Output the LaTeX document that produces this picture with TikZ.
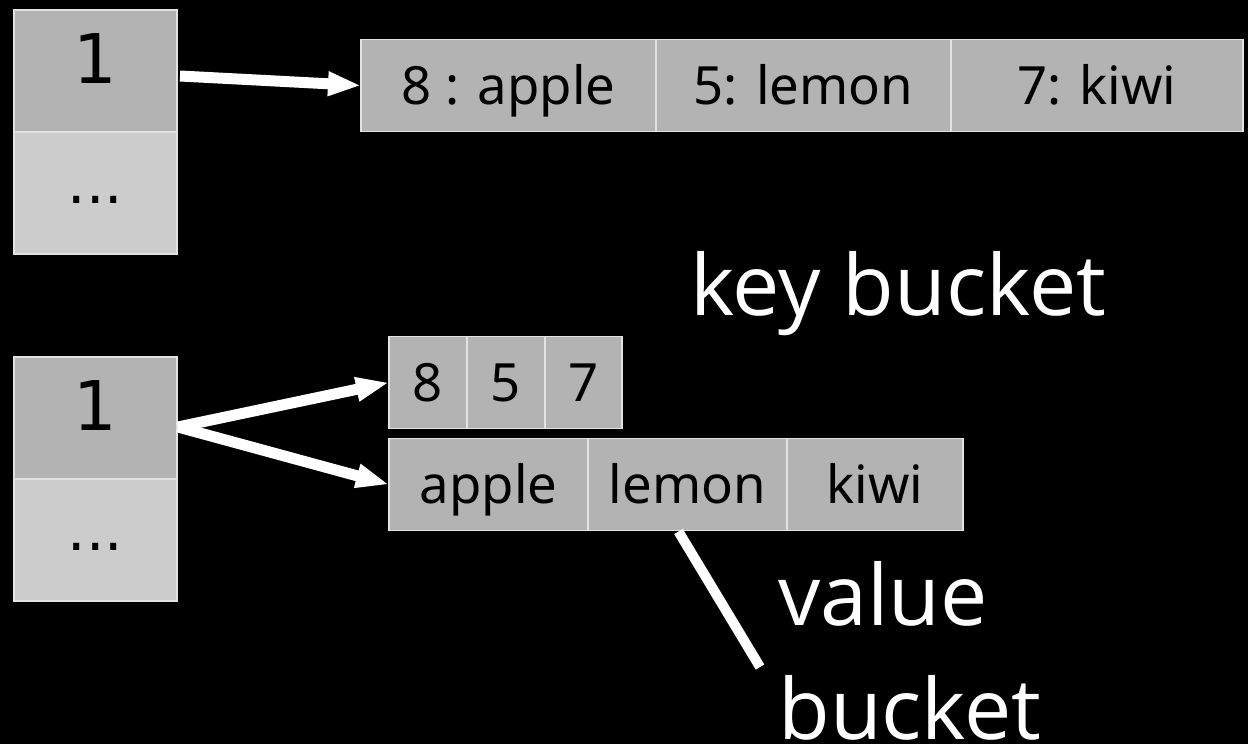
\documentclass[tikz,border=0pt]{standalone}
\usepackage{fontspec}
\setmainfont{Open Sans}
\newfontfamily\cellfont{Noto Sans}
\newfontfamily\hashfont{DejaVu Sans}
\usepackage{xcolor}
\usetikzlibrary{arrows.meta,positioning}
\definecolor{cellgray}{HTML}{B3B3B3}
\definecolor{dotgray}{HTML}{CCCCCC}
\definecolor{cellline}{HTML}{E2E2E2}

\begin{document}
\begin{tikzpicture}[x=0.02cm, y=-0.02cm,
	cellbox/.style={draw=cellline, line width=0.8pt, fill=cellgray, inner sep=0pt, outer sep=0pt, text=black},
	hashcell/.style={cellbox, minimum width=3.26cm, minimum height=2.44cm, font=\hashfont\fontsize{39}{47}\selectfont, text height=27.7pt, text depth=14pt},
	dotcell/.style={hashcell, fill=dotgray, font=\hashfont\fontsize{33}{40}\selectfont, text height=12pt, text depth=0pt},
	entrycell/.style={cellbox, minimum height=1.84cm, font=\cellfont\fontsize{30}{36}\selectfont, text height=21.5pt, text depth=0pt},
	link/.style={draw=white, line width=0.22cm, -{Triangle[length=0.66cm,width=0.45cm]}},
	lbl/.style={text=white, inner sep=0pt, font=\fontsize{48}{65}\selectfont}]
	\fill[black] (0,0) rectangle (1248,744);
	% one list per hash
	\node[hashcell] (top) at (95.5,71) {1};
	\node[dotcell, below=0pt of top] (topdots) {...};
	\node[entrycell, minimum width=5.9cm, anchor=west] (a1) at (361,85.5) {8 : apple};
	\node[entrycell, minimum width=5.9cm, right=0pt of a1] (a2) {5: lemon};
	\node[entrycell, minimum width=5.84cm, right=0pt of a2] (a3) {7: kiwi};
	\draw[link] ([shift={(3,5)}]top.east) -- (a1.west);
	% keys and values kept apart
	\node[hashcell] (bot) at (95.5,418) {1};
	\node[dotcell, below=0pt of bot] (botdots) {...};
	\node[entrycell, minimum width=1.56cm, anchor=west] (k1) at (389,382.5) {8};
	\node[entrycell, minimum width=1.56cm, right=0pt of k1] (k2) {5};
	\node[entrycell, minimum width=1.54cm, right=0pt of k2] (k3) {7};
	\node[entrycell, minimum width=3.98cm, anchor=west] (v1) at (389,484.5) {apple};
	\node[entrycell, minimum width=3.98cm, right=0pt of v1] (v2) {lemon};
	\node[entrycell, minimum width=3.52cm, right=0pt of v2] (v3) {kiwi};
	\draw[link] ([shift={(1,9)}]bot.east) -- (k1.west);
	\draw[link] ([shift={(1,9)}]bot.east) -- (v1.west);
	% labels
	\node[lbl, anchor=base west] (keylbl) at (690,315) {key bucket};
	\node[lbl, anchor=north west, align=left] (vallbl) at (778,561) {value\\bucket};
	\coordinate (tail) at (760,667);
	\draw[white, line width=0.2cm] ([shift={(-9,1)}]v2.south) -- (tail);
\end{tikzpicture}
\end{document}
